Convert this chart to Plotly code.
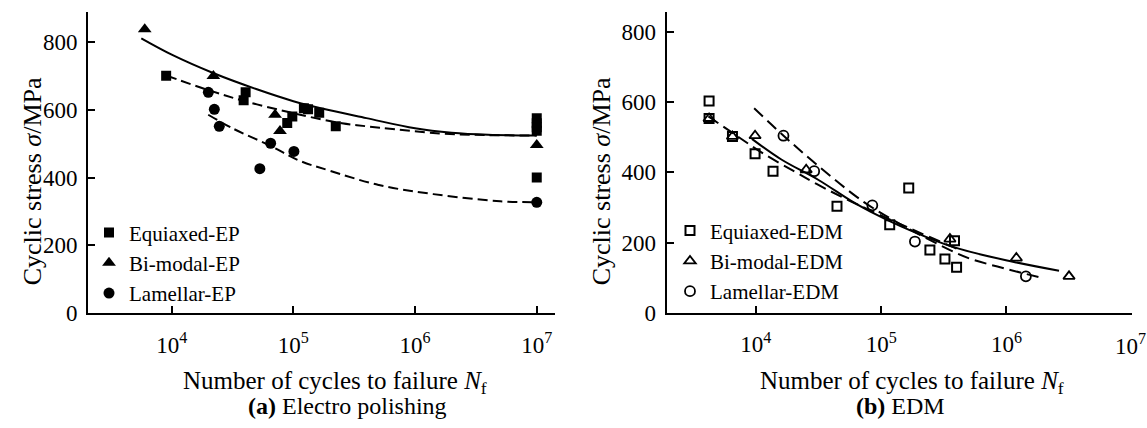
import plotly.graph_objects as go

W, H = 1147, 428

# ---------------- data: (a) Electro polishing ----------------
eq_ep_N = [9.0e3, 3.9e4, 4.05e4, 8.9e4, 9.8e4, 1.22e5, 1.32e5, 1.63e5, 2.23e5, 1e7, 1e7, 1e7, 1e7, 1e7]
eq_ep_S = [700, 628, 651, 561, 580, 604, 601, 591, 551, 575, 560, 548, 538, 400]
bi_ep_N = [6.0e3, 2.2e4, 7.07e4, 7.76e4, 1e7]
bi_ep_S = [837, 699, 585, 537, 496]
la_ep_N = [2.0e4, 2.24e4, 2.46e4, 5.3e4, 6.5e4, 1.01e5, 1e7]
la_ep_S = [651, 601, 551, 426, 501, 477, 327]

# fitted curves (log10 N, stress)
bi_ep_fit_logN = [3.75, 4.0, 4.34, 4.7, 5.0, 5.3, 5.6, 6.0, 6.3, 6.6, 7.0]
bi_ep_fit_S = [810, 762, 708, 660, 625, 598, 575, 545, 532, 526, 524]
eq_ep_fit_logN = [3.96, 4.315, 4.6, 4.89, 5.055, 5.4, 5.71, 6.2, 6.6, 7.0]
eq_ep_fit_S = [700, 656, 625, 599, 585, 560, 547, 530, 525, 524]
la_ep_fit_logN = [4.30, 4.5, 4.808, 5.054, 5.3, 5.7, 6.15, 6.7, 7.0]
la_ep_fit_S = [585, 545, 494, 449, 420, 378, 351, 330, 327]

# ---------------- data: (b) EDM ----------------
eq_edm_N = [4.23e3, 4.23e3, 6.5e3, 9.85e3, 1.37e4, 4.44e4, 1.17e5, 1.66e5, 2.45e5, 3.23e5, 3.85e5, 4.0e5]
eq_edm_S = [603, 553, 502, 453, 403, 303, 251, 355, 179, 153, 205, 130]
bi_edm_N = [4.23e3, 6.5e3, 9.85e3, 2.52e4, 3.54e5, 1.2e6, 3.16e6]
bi_edm_S = [553, 502, 504, 407, 210, 156, 104]
la_edm_N = [1.66e4, 2.92e4, 8.5e4, 1.86e5, 1.43e6]
la_edm_S = [504, 403, 306, 203, 104]

bi_edm_fit_logN = [3.968, 4.2, 4.5, 4.754, 4.914, 5.154, 5.58, 6.06, 6.42]
bi_edm_fit_S = [495, 437, 378, 320, 288, 247, 187, 145, 120]
eq_edm_fit_logN = [3.621, 3.85, 4.06, 4.3, 4.488, 4.8, 5.2, 5.62]
eq_edm_fit_S = [559, 503, 453, 404, 366, 310, 245, 180]
la_edm_fit_logN = [3.986, 4.221, 4.488, 4.86, 5.2, 5.554, 5.71, 5.98, 6.30]
la_edm_fit_S = [582, 504, 421, 316, 243, 178, 154, 127, 98]

tick_vals = [1e4, 1e5, 1e6, 1e7]
tick_text = ["10<sup>4</sup>", "10<sup>5</sup>", "10<sup>6</sup>", "10<sup>7</sup>"]
y_ticks = [0, 200, 400, 600, 800]

FONT = "Liberation Serif, Times New Roman, serif"
BLK = "black"

fig = go.Figure()

def curve(logN, S, dash, xa, ya):
    fig.add_trace(go.Scatter(
        x=[10 ** v for v in logN], y=S, mode="lines",
        line=dict(color=BLK, width=2, dash=dash, shape="spline", smoothing=1.0),
        showlegend=False, hoverinfo="skip", xaxis=xa, yaxis=ya))

# (a) curves
curve(bi_ep_fit_logN, bi_ep_fit_S, "solid", "x", "y")
curve(eq_ep_fit_logN, eq_ep_fit_S, "10px,5px", "x", "y")
curve(la_ep_fit_logN, la_ep_fit_S, "10px,5px", "x", "y")
# (b) curves
curve(bi_edm_fit_logN, bi_edm_fit_S, "solid", "x2", "y2")
curve(eq_edm_fit_logN, eq_edm_fit_S, "12px,6px", "x2", "y2")
curve(la_edm_fit_logN, la_edm_fit_S, "12px,6px", "x2", "y2")

# (a) markers
fig.add_trace(go.Scatter(x=eq_ep_N, y=eq_ep_S, mode="markers", name="Equiaxed-EP",
                         marker=dict(symbol="square", size=10, color=BLK), legend="legend"))
fig.add_trace(go.Scatter(x=bi_ep_N, y=bi_ep_S, mode="markers", name="Bi-modal-EP",
                         marker=dict(symbol="triangle-up", size=12, color=BLK), legend="legend"))
fig.add_trace(go.Scatter(x=la_ep_N, y=la_ep_S, mode="markers", name="Lamellar-EP",
                         marker=dict(symbol="circle", size=11, color=BLK), legend="legend"))
# (b) markers
fig.add_trace(go.Scatter(x=eq_edm_N, y=eq_edm_S, mode="markers", name="Equiaxed-EDM",
                         marker=dict(symbol="square-open", size=9, color=BLK, line=dict(width=2)),
                         xaxis="x2", yaxis="y2", legend="legend2"))
fig.add_trace(go.Scatter(x=bi_edm_N, y=bi_edm_S, mode="markers", name="Bi-modal-EDM",
                         marker=dict(symbol="triangle-up-open", size=10, color=BLK, line=dict(width=1.8)),
                         xaxis="x2", yaxis="y2", legend="legend2"))
fig.add_trace(go.Scatter(x=la_edm_N, y=la_edm_S, mode="markers", name="Lamellar-EDM",
                         marker=dict(symbol="circle-open", size=10, color=BLK, line=dict(width=1.8)),
                         xaxis="x2", yaxis="y2", legend="legend2"))

def px(x):
    return x / W

def py(y):
    return 1 - y / H

axis_common = dict(showgrid=False, zeroline=False, showline=True, linecolor=BLK, linewidth=2,
                   ticks="inside", ticklen=7, tickwidth=2, tickcolor=BLK,
                   tickfont=dict(family=FONT, size=23, color=BLK), mirror=False)

# the last label of panel (b) sits at the page edge: drawn as an annotation so it stays inside
tick_text_b = tick_text[:-1] + [""]

fig.update_layout(
    width=W, height=H,
    margin=dict(l=0, r=0, t=0, b=0),
    paper_bgcolor="white", plot_bgcolor="white",
    font=dict(family=FONT, color=BLK),
    xaxis=dict(domain=[px(88), px(555)], type="log", range=[3.312, 7.15],
               tickvals=tick_vals, ticktext=tick_text, anchor="y",
               ticklabelstandoff=10, **axis_common),
    yaxis=dict(domain=[py(323), py(12)], range=[0, 889], tickvals=y_ticks,
               anchor="x", ticklabelstandoff=4, **axis_common),
    xaxis2=dict(domain=[px(666.7), px(1131.7)], type="log", range=[3.288, 7.0],
                tickvals=tick_vals, ticktext=tick_text_b, anchor="y2",
                ticklabelstandoff=10, **axis_common),
    yaxis2=dict(domain=[py(322.7), py(12.7)], range=[0, 855], tickvals=y_ticks,
                anchor="x2", ticklabelstandoff=4, **axis_common),
    legend=dict(x=px(89), y=py(219), xanchor="left", yanchor="top",
                font=dict(family=FONT, size=21, color=BLK), bgcolor="rgba(0,0,0,0)",
                tracegroupgap=0, itemsizing="trace"),
    legend2=dict(x=px(670), y=py(217), xanchor="left", yanchor="top",
                 font=dict(family=FONT, size=21, color=BLK), bgcolor="rgba(0,0,0,0)",
                 tracegroupgap=0, itemsizing="trace"),
)

annotations = [
    dict(text="Cyclic stress <i>σ</i>/MPa", x=px(32), y=py(187), textangle=-90, size=26),
    dict(text="Cyclic stress <i>σ</i>/MPa", x=px(601), y=py(187), textangle=-90, size=26),
    dict(text="Number of cycles to failure <i>N</i><sub>f</sub>", x=px(335), y=py(394), size=25),
    dict(text="Number of cycles to failure <i>N</i><sub>f</sub>", x=px(912), y=py(394), size=25),
    dict(text="<b>(a)</b> Electro polishing", x=px(347), y=py(419), size=24),
    dict(text="<b>(b)</b> EDM", x=px(900), y=py(419), size=24),
]
anns = []
for a in annotations:
    a = dict(a)
    sz = a.pop("size")
    anns.append(dict(a, xref="paper", yref="paper", showarrow=False,
                     xanchor="center", yanchor="middle",
                     font=dict(family=FONT, size=sz, color=BLK)))
anns.append(dict(text=tick_text[-1], xref="paper", yref="paper", x=1.0, y=py(355),
                 xanchor="right", yanchor="middle", showarrow=False, borderpad=0,
                 font=dict(family=FONT, size=23, color=BLK)))
fig.update_layout(annotations=anns)

fig.write_html("out.html")
